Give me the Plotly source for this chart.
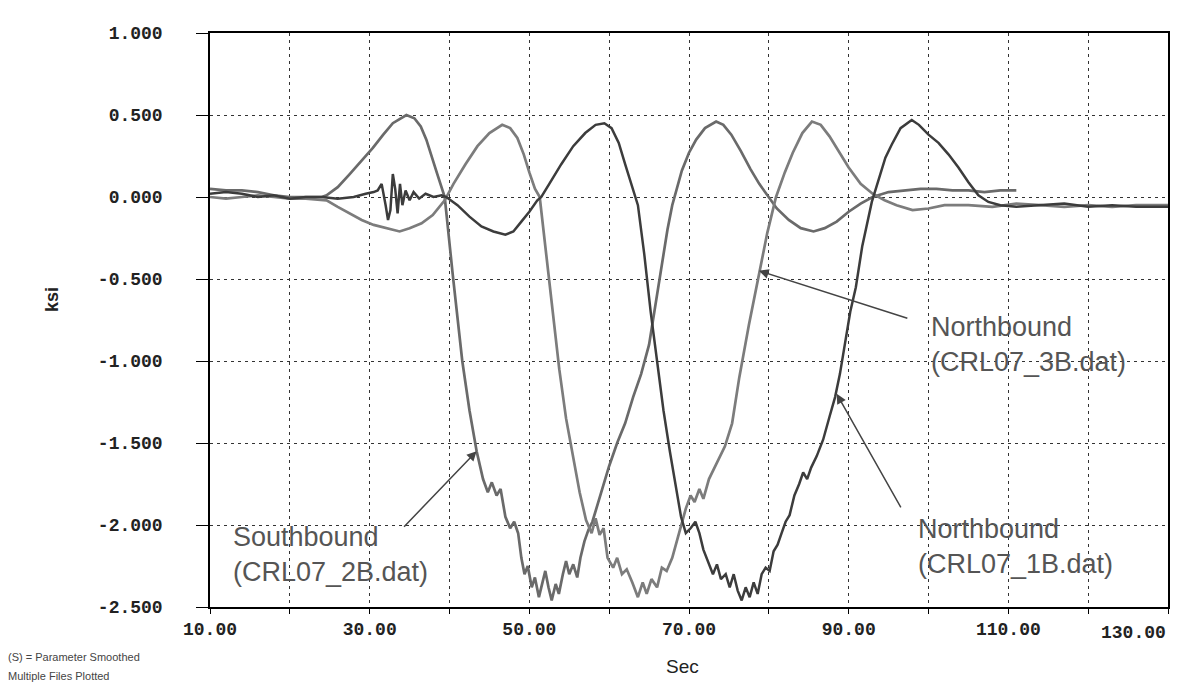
import plotly.graph_objects as go

# ---------------- data ----------------
# Southbound (CRL07_2B.dat)
sb2_sec = [10, 12, 14, 16, 18, 20, 22, 24, 24.6, 26, 27.5, 29, 30.4, 31.7, 32.9, 34.6, 35.6, 36.4, 37.1, 38.4, 39.4,
           40.4, 41.6, 42.5, 43.4, 44.2, 44.8, 45.3, 45.9, 46.4, 47.0, 47.6, 48.1, 48.6, 49.0, 49.4, 49.8, 50.3,
           50.7, 51.2, 51.6, 52.0, 52.4, 52.8, 53.3, 53.7, 54.2, 54.6, 55.0, 55.5, 56.0, 56.4, 56.9, 57.4, 57.9,
           58.5, 59.2, 60.0, 61.0, 62.0, 63.0, 64.0, 65.0, 65.8, 66.6, 67.3, 67.9, 68.5, 69.1, 70.0, 70.9, 72.0,
           73.4, 74.3, 75.3, 76.5, 77.7, 78.8, 80.0, 81.0, 82.5, 84.0, 85.6, 87.0, 88.5, 90.0, 91.5, 93.0, 95.0,
           97.0, 99.0, 101.0, 103.0, 105.0, 107.0, 109.0, 111.0]
sb2_ksi = [0.05, 0.04, 0.04, 0.03, 0.01, 0.0, 0.0, 0.0, 0.01, 0.06, 0.14, 0.22, 0.30, 0.38, 0.45, 0.50, 0.48, 0.43, 0.35, 0.15, 0.0,
           -0.47, -1.0, -1.3, -1.55, -1.72, -1.80, -1.74, -1.82, -1.78, -1.95, -2.02, -1.98, -2.05, -2.2, -2.3, -2.25, -2.38,
           -2.32, -2.44, -2.36, -2.28, -2.38, -2.46, -2.36, -2.42, -2.3, -2.22, -2.3, -2.24, -2.32, -2.2, -2.1, -2.03, -1.98,
           -1.88, -1.76, -1.64, -1.5, -1.38, -1.22, -1.08, -0.9, -0.65, -0.39, -0.2, -0.05, 0.05, 0.16, 0.27, 0.35, 0.42,
           0.46, 0.44, 0.38, 0.28, 0.17, 0.08, 0.0, -0.07, -0.14, -0.19, -0.21, -0.19, -0.15, -0.09, -0.04, 0.0, 0.03,
           0.04, 0.05, 0.05, 0.04, 0.04, 0.03, 0.04, 0.04]

# Northbound (CRL07_3B.dat)
nb3_sec = [10, 12, 14, 16, 18, 20, 22, 24.6, 26, 27.5, 29, 30.5, 32, 33.75, 35, 36.5, 37.9, 39.4, 40.5, 42, 43.5, 45,
           46.6, 47.6, 48.5, 49.3, 50.0, 50.7, 51.3, 52.5, 53.75, 54.6, 55.5, 56.3, 57.1, 57.8, 58.3, 58.8, 59.3, 59.8,
           60.5, 61.0, 61.6, 62.2, 62.9, 63.6, 64.2, 64.7, 65.3, 66.0, 66.6, 67.2, 67.9, 68.6, 69.1, 69.6, 70.2, 70.7,
           71.3, 71.8, 72.5, 73.5, 74.5, 75.4, 76.3, 77.5, 78.75, 79.8, 80.9, 82.0, 83.0, 84.2, 85.4, 86.5, 87.6,
           88.75, 90.0, 91.5, 93.0, 94.5, 96.0, 98.0, 100.0, 102.0, 105.0, 108.0, 111.0, 114.0, 117.0, 120.0, 123.0,
           126.0, 130.0]
nb3_ksi = [0.0, -0.01, 0.0, 0.01, 0.0, -0.01, -0.01, -0.02, -0.06, -0.1, -0.14, -0.17, -0.19, -0.21, -0.19, -0.16, -0.11, -0.02, 0.08, 0.2, 0.31, 0.39,
           0.44, 0.42, 0.36, 0.26, 0.15, 0.05, 0.0, -0.5, -1.05, -1.35, -1.6, -1.8, -1.97, -2.05, -1.96, -2.06, -2.02, -2.2,
           -2.26, -2.2, -2.3, -2.27, -2.35, -2.44, -2.35, -2.42, -2.33, -2.38, -2.26, -2.28, -2.2, -2.08, -2.0, -1.9, -1.82, -1.86,
           -1.78, -1.84, -1.72, -1.62, -1.52, -1.38, -1.1, -0.78, -0.47, -0.22, 0.0, 0.15, 0.27, 0.39, 0.46, 0.44, 0.37,
           0.28, 0.18, 0.08, 0.02, -0.02, -0.05, -0.08, -0.07, -0.05, -0.05, -0.06, -0.04, -0.05, -0.06, -0.05, -0.06,
           -0.05, -0.05]

# Northbound (CRL07_1B.dat)
nb1_sec = [10, 12, 14, 16, 18, 20, 22, 24, 26, 28, 29.5, 30.5, 31.0, 31.5, 32.0, 32.3, 32.6, 32.9, 33.2, 33.5, 33.8,
           34.1, 34.5, 35.0, 35.5, 36.2, 37.0, 38.0, 39.0, 39.6, 41.0, 42.5, 44.0, 45.5, 47.0, 48.0, 49.0, 50.0, 51.0,
           51.5, 52.5, 54.0, 55.5, 57.0, 58.3, 59.4, 60.3, 61.2, 62.0, 62.8, 63.6, 64.4, 65.2, 66.0, 66.8, 67.6, 68.3,
           69.0, 69.6, 70.2, 70.8, 71.3, 71.8, 72.4, 73.0, 73.5, 74.0, 74.6, 75.1, 75.6, 76.1, 76.6, 77.1, 77.6, 78.1,
           78.6, 79.1, 79.6, 80.1, 80.6, 81.1, 81.6, 82.1, 82.6, 83.2, 83.8, 84.3, 84.8, 85.3, 86.0, 86.8, 87.6, 88.3,
           88.9, 89.5, 90.2, 90.9, 91.7, 92.9, 93.8, 94.6, 95.4, 96.5, 97.9, 98.8, 100.0, 101.25, 102.5, 103.75, 105.0,
           106.25, 107.5, 109.0, 111.0, 114.0, 117.0, 120.0, 123.0, 126.0, 130.0]
nb1_ksi = [0.02, 0.03, 0.02, 0.0, 0.01, -0.01, 0.0, 0.0, -0.01, 0.0, 0.02, 0.03, 0.04, 0.08, -0.05, -0.14, -0.08, 0.14, 0.05, -0.1, 0.08,
           -0.05, 0.04, -0.02, 0.03, -0.01, 0.02, 0.0, 0.01, 0.0, -0.05, -0.12, -0.18, -0.21, -0.23, -0.21, -0.15, -0.09, -0.02,
           0.0, 0.08, 0.2, 0.31, 0.39, 0.44, 0.45, 0.42, 0.33, 0.2, 0.08, -0.05, -0.35, -0.7, -1.0, -1.3, -1.55, -1.75,
           -1.95, -2.05, -2.02, -1.98, -2.05, -2.15, -2.22, -2.3, -2.24, -2.33, -2.3, -2.38, -2.3, -2.4, -2.46, -2.38, -2.44, -2.35,
           -2.42, -2.3, -2.26, -2.28, -2.16, -2.12, -2.05, -1.98, -1.94, -1.82, -1.75, -1.68, -1.72, -1.65, -1.58, -1.48, -1.34, -1.22,
           -1.08, -0.9, -0.7, -0.55, -0.3, -0.03, 0.12, 0.24, 0.32, 0.42, 0.47, 0.44, 0.38, 0.33, 0.26, 0.18, 0.09,
           0.01, -0.03, -0.05, -0.06, -0.05, -0.04, -0.06, -0.05, -0.06, -0.06]

x_ticks = [10, 30, 50, 70, 90, 110, 130]
x_minor = [20, 40, 60, 80, 100, 120]
y_ticks = [1.0, 0.5, 0.0, -0.5, -1.0, -1.5, -2.0, -2.5]

# ---------------- layout helpers ----------------
W, H = 1200, 692
L, R, T, B = 210, 1168, 33, 607


def px(xp):
    return (xp - L) / (R - L)


def py(yp):
    return (B - yp) / (B - T)


fig = go.Figure()
fig.add_trace(go.Scatter(x=sb2_sec, y=sb2_ksi, mode="lines", name="CRL07_2B",
                         line=dict(color="#6a6a6a", width=2.7)))
fig.add_trace(go.Scatter(x=nb3_sec, y=nb3_ksi, mode="lines", name="CRL07_3B",
                         line=dict(color="#7c7c7c", width=2.7)))
fig.add_trace(go.Scatter(x=nb1_sec, y=nb1_ksi, mode="lines", name="CRL07_1B",
                         line=dict(color="#3c3c3c", width=2.5)))

grid_dash = "3px,4px"
tick_font = dict(family="Liberation Mono", size=18, color="#222", weight="bold")

# last x label would overflow the page edge, so it is drawn as an annotation
x_ticktext = [f"{v:.2f}" if v != x_ticks[-1] else "" for v in x_ticks]

fig.update_layout(
    width=W, height=H,
    margin=dict(l=L, r=W - R, t=T, b=H - B),
    paper_bgcolor="white", plot_bgcolor="white",
    showlegend=False,
    xaxis=dict(range=[10, 130], tickmode="array", tickvals=x_ticks,
               ticktext=x_ticktext,
               showgrid=True, gridcolor="#333", gridwidth=1, griddash=grid_dash,
               showline=True, linecolor="black", linewidth=1.5, mirror=True,
               ticks="outside", ticklen=5, tickcolor="black", tickwidth=1.2,
               ticklabelstandoff=0,
               minor=dict(tickmode="array", tickvals=x_minor, showgrid=True, gridcolor="#333",
                          gridwidth=1, griddash=grid_dash, ticks="outside", ticklen=5,
                          tickcolor="black"),
               zeroline=False, tickfont=tick_font),
    yaxis=dict(range=[-2.5, 1.0], tickmode="array", tickvals=y_ticks,
               ticktext=[f"{v:.3f}" for v in y_ticks],
               showgrid=True, gridcolor="#333", gridwidth=1, griddash=grid_dash,
               showline=True, linecolor="black", linewidth=1.5, mirror=True,
               ticks="outside", ticklen=12, tickcolor="black", tickwidth=1.2,
               ticklabelstandoff=30,
               zeroline=False, tickfont=tick_font),
)

label_font = dict(family="Liberation Sans", size=27, color="#555")
ann = []
# label texts
ann.append(dict(xref="paper", yref="paper", x=px(231), y=py(554), xanchor="left", yanchor="middle",
                text="Southbound<br>(CRL07_2B.dat)", showarrow=False, align="left", font=label_font))
ann.append(dict(xref="paper", yref="paper", x=px(929), y=py(344), xanchor="left", yanchor="middle",
                text="Northbound<br>(CRL07_3B.dat)", showarrow=False, align="left", font=label_font))
ann.append(dict(xref="paper", yref="paper", x=px(916), y=py(546), xanchor="left", yanchor="middle",
                text="Northbound<br>(CRL07_1B.dat)", showarrow=False, align="left", font=label_font))
# arrows pointing to the curves
arrow_style = dict(showarrow=True, arrowhead=2, arrowsize=1.3, arrowwidth=1.5, arrowcolor="#444", text="")
ann.append(dict(xref="x", yref="y", x=43.4, y=-1.55, ax=-74, ay=77, **arrow_style))
ann.append(dict(xref="x", yref="y", x=78.75, y=-0.45, ax=150, ay=48, **arrow_style))
ann.append(dict(xref="x", yref="y", x=88.5, y=-1.2, ax=65, ay=115, **arrow_style))
# last x tick label
ann.append(dict(xref="x", yref="paper", x=x_ticks[-1], y=py(633), xanchor="right", yanchor="middle",
                text=f"{x_ticks[-1]:.2f}", showarrow=False, font=tick_font))
# axis titles
ann.append(dict(xref="paper", yref="paper", x=px(40), y=py(300), text="<b>ksi</b>", textangle=-90,
                showarrow=False, font=dict(family="Liberation Sans", size=18, color="#222")))
ann.append(dict(xref="paper", yref="paper", x=px(682), y=py(679), text="Sec",
                showarrow=False, font=dict(family="Liberation Sans", size=19, color="#222")))
# footnotes
ann.append(dict(xref="paper", yref="paper", x=px(6), y=py(657), xanchor="left", yanchor="middle",
                text="(S) = Parameter Smoothed", showarrow=False,
                font=dict(family="Liberation Sans", size=11, color="#444")))
ann.append(dict(xref="paper", yref="paper", x=px(6), y=py(676), xanchor="left", yanchor="middle",
                text="Multiple Files Plotted", showarrow=False,
                font=dict(family="Liberation Sans", size=11, color="#444")))
fig.update_layout(annotations=ann)

fig.write_html("out.html")
